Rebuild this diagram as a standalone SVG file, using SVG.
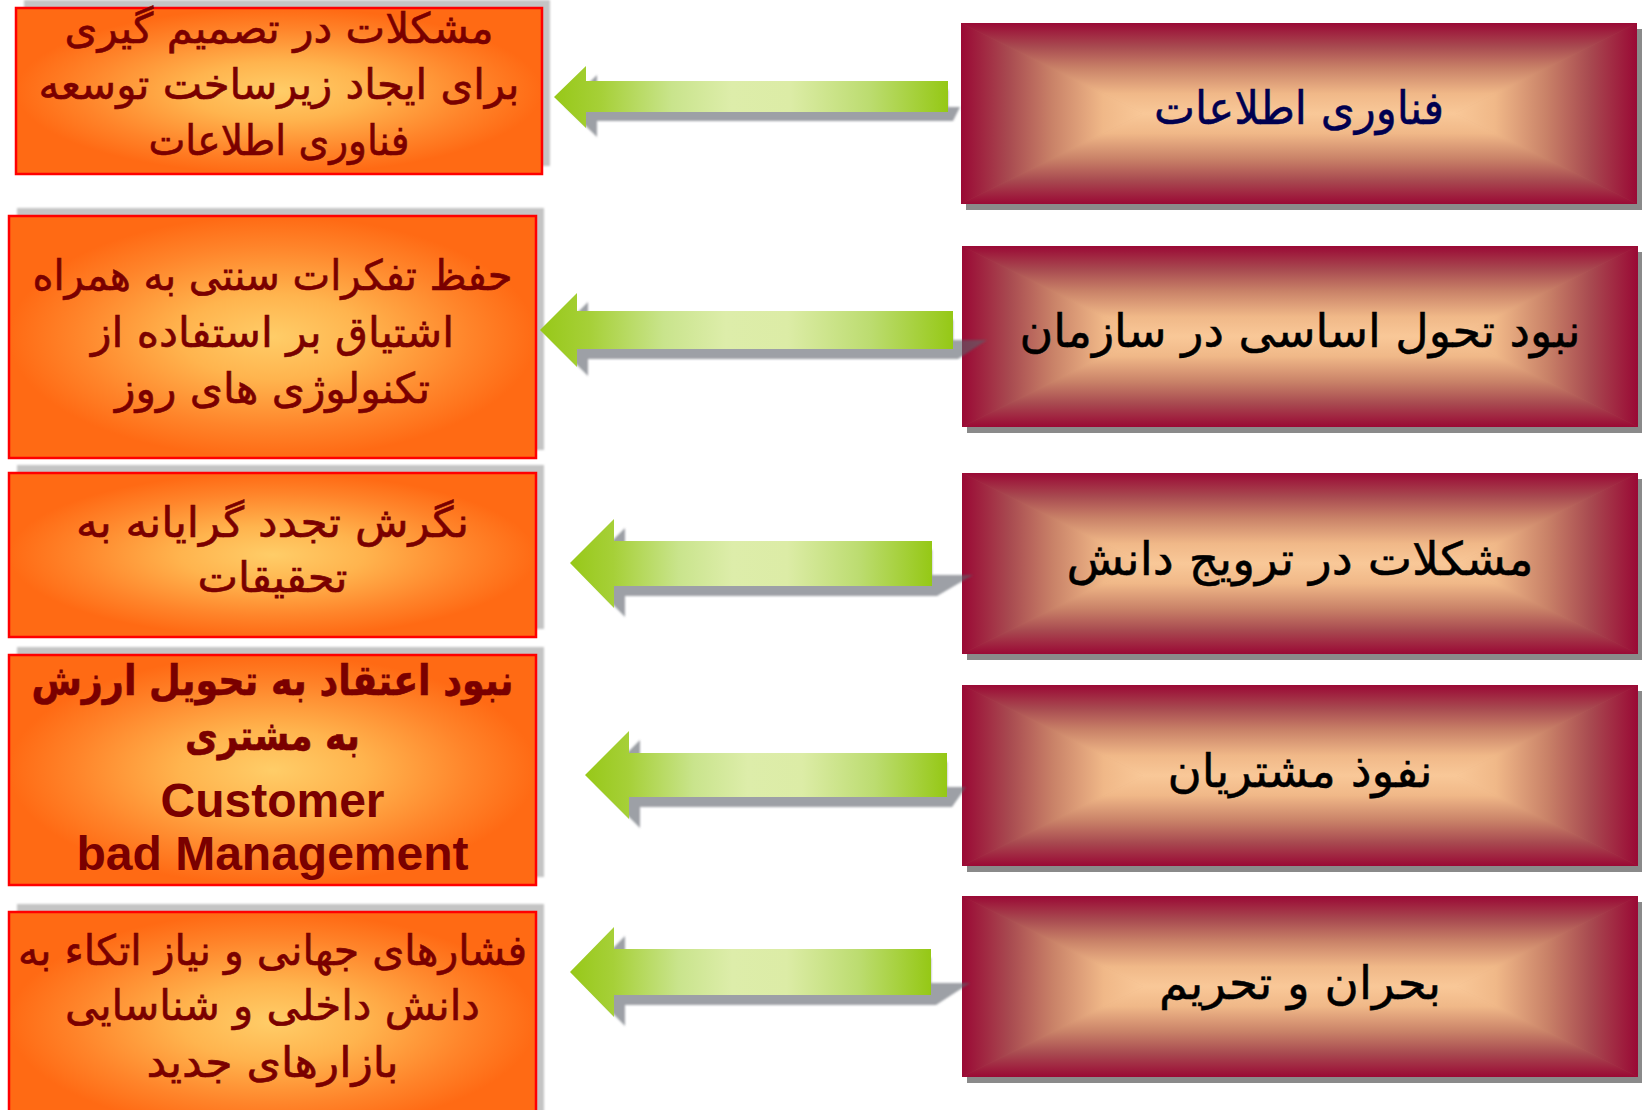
<svg xmlns="http://www.w3.org/2000/svg" xmlns:xlink="http://www.w3.org/1999/xlink" width="1642" height="1110" viewBox="0 0 1642 1110">
<style>
.fa{font-family:"DejaVu Sans","Noto Sans",sans-serif;text-anchor:middle;direction:rtl}
.lt{fill:#7a0000;stroke:#7a0000;stroke-width:0.6;font-size:42px}
.rt{fill:#000;stroke:#000;stroke-width:0.5;font-size:46px}
.en{font-family:"Liberation Sans",Arial,sans-serif;font-weight:bold;font-size:48px;fill:#7a0000;text-anchor:middle}
.obox{fill:url(#gOr);stroke:#ff0000;stroke-width:2.5}
.oshd{fill:#c4c4c4;filter:url(#blur1)}
.rshd{fill:#8a8a8a}
.ashd{fill:rgb(90,95,105);fill-opacity:0.6;filter:url(#blur1)}
.arr{fill:url(#gAr)}
</style>
<defs>
<filter id="blur1" x="-5%" y="-20%" width="110%" height="140%"><feGaussianBlur stdDeviation="1.2"/></filter>
<radialGradient id="gOr" cx="0.5" cy="0.5" r="0.5">
<stop offset="0" stop-color="#ffcd68"/>
<stop offset="0.35" stop-color="#ffb44e"/>
<stop offset="0.75" stop-color="#ff842a"/>
<stop offset="1" stop-color="#ff6a14"/>
</radialGradient>
<linearGradient id="gAr" x1="0" y1="0" x2="1" y2="0">
<stop offset="0" stop-color="#97c818"/>
<stop offset="0.12" stop-color="#a6d038"/>
<stop offset="0.3" stop-color="#c9e48c"/>
<stop offset="0.45" stop-color="#ddedaa"/>
<stop offset="0.6" stop-color="#dceca6"/>
<stop offset="0.8" stop-color="#bcdc70"/>
<stop offset="1" stop-color="#95c815"/>
</linearGradient>
<linearGradient id="gT" x1="0" y1="0" x2="0" y2="1">
<stop offset="0" stop-color="#9a0935"/>
<stop offset="0.26" stop-color="#a84a50"/>
<stop offset="0.5" stop-color="#c98268"/>
<stop offset="0.78" stop-color="#f0b888"/>
<stop offset="1" stop-color="#f9c898"/>
</linearGradient>
<linearGradient id="gB" xlink:href="#gT" x1="0" y1="1" x2="0" y2="0"/>
<linearGradient id="gL" xlink:href="#gT" x1="0" y1="0" x2="1" y2="0"/>
<linearGradient id="gR" xlink:href="#gT" x1="1" y1="0" x2="0" y2="0"/>
<symbol id="redFill" viewBox="0 0 676 181" preserveAspectRatio="none">
<rect width="676" height="181" fill="#c98268"/>
<polygon points="0,0 0,181 182,90.5" fill="url(#gL)" stroke="url(#gL)" stroke-width="0.8"/>
<polygon points="676,0 676,181 494,90.5" fill="url(#gR)" stroke="url(#gR)" stroke-width="0.8"/>
<polygon points="0,0 676,0 494,90.5 182,90.5" fill="url(#gT)" stroke="url(#gT)" stroke-width="0.8"/>
<polygon points="0,181 676,181 494,90.5 182,90.5" fill="url(#gB)" stroke="url(#gB)" stroke-width="0.8"/>
</symbol>
</defs>
<rect width="1642" height="1110" fill="#ffffff"/>

<g id="left1">
<rect class="oshd" x="24" y="0" width="526" height="166"/>
<rect class="obox" x="16" y="8" width="526" height="166"/>
<text class="fa lt" x="279" y="43" textLength="429" lengthAdjust="spacingAndGlyphs">مشکلات در تصمیم گیری</text>
<text class="fa lt" x="279" y="99" textLength="481" lengthAdjust="spacingAndGlyphs">برای ایجاد زیرساخت توسعه</text>
<text class="fa lt" x="279" y="155" textLength="261" lengthAdjust="spacingAndGlyphs">فناوری اطلاعات</text>
</g>
<g id="left2">
<rect class="oshd" x="17" y="208" width="527" height="242"/>
<rect class="obox" x="9" y="216" width="527" height="242"/>
<text class="fa lt" x="272.5" y="290" textLength="480" lengthAdjust="spacingAndGlyphs">حفظ تفکرات سنتی به همراه</text>
<text class="fa lt" x="272.5" y="347" textLength="363" lengthAdjust="spacingAndGlyphs">اشتیاق بر استفاده از</text>
<text class="fa lt" x="272.5" y="403" textLength="315" lengthAdjust="spacingAndGlyphs">تکنولوژی های روز</text>
</g>
<g id="left3">
<rect class="oshd" x="17" y="465" width="527" height="164"/>
<rect class="obox" x="9" y="473" width="527" height="164"/>
<text class="fa lt" x="272.5" y="537" textLength="393" lengthAdjust="spacingAndGlyphs">نگرش تجدد گرایانه به</text>
<text class="fa lt" x="272.5" y="592" textLength="150" lengthAdjust="spacingAndGlyphs">تحقیقات</text>
</g>
<g id="left4">
<rect class="oshd" x="17" y="647" width="527" height="230"/>
<rect class="obox" x="9" y="655" width="527" height="230"/>
<text class="fa lt" x="272.5" y="695" font-weight="bold" textLength="482" lengthAdjust="spacingAndGlyphs">نبود اعتقاد به تحویل ارزش</text>
<text class="fa lt" x="272.5" y="750" font-weight="bold" textLength="175" lengthAdjust="spacingAndGlyphs">به مشتری</text>
<text class="en" x="272.5" y="817">Customer</text>
<text class="en" x="272.5" y="870">bad Management</text>
</g>
<g id="left5">
<rect class="oshd" x="17" y="904" width="527" height="220"/>
<rect class="obox" x="9" y="912" width="527" height="220"/>
<text class="fa lt" x="272.5" y="965" textLength="509" lengthAdjust="spacingAndGlyphs">فشارهای جهانی و نیاز اتکاء به</text>
<text class="fa lt" x="272.5" y="1020" textLength="415" lengthAdjust="spacingAndGlyphs">دانش داخلی و شناسایی</text>
<text class="fa lt" x="272.5" y="1077" textLength="252" lengthAdjust="spacingAndGlyphs">بازارهای جدید</text>
</g>

<g id="right1">
<rect class="rshd" x="966" y="29" width="676" height="181"/>
<use xlink:href="#redFill" x="961" y="23" width="676" height="181"/>
<text class="fa rt" x="1299" y="124" style="fill:#000050;stroke:#000050" textLength="290" lengthAdjust="spacingAndGlyphs">فناوری اطلاعات</text>
</g>
<g id="right2">
<rect class="rshd" x="967" y="252" width="676" height="181"/>
<use xlink:href="#redFill" x="962" y="246" width="676" height="181"/>
<text class="fa rt" x="1300" y="347" textLength="561" lengthAdjust="spacingAndGlyphs">نبود تحول اساسی در سازمان</text>
</g>
<g id="right3">
<rect class="rshd" x="967" y="479" width="676" height="181"/>
<use xlink:href="#redFill" x="962" y="473" width="676" height="181"/>
<text class="fa rt" x="1300" y="575" textLength="467" lengthAdjust="spacingAndGlyphs">مشکلات در ترویج دانش</text>
</g>
<g id="right4">
<rect class="rshd" x="967" y="691" width="676" height="181"/>
<use xlink:href="#redFill" x="962" y="685" width="676" height="181"/>
<text class="fa rt" x="1300" y="787" textLength="265" lengthAdjust="spacingAndGlyphs">نفوذ مشتریان</text>
</g>
<g id="right5">
<rect class="rshd" x="967" y="902" width="676" height="181"/>
<use xlink:href="#redFill" x="962" y="896" width="676" height="181"/>
<text class="fa rt" x="1300" y="999" textLength="282" lengthAdjust="spacingAndGlyphs">بحران و تحریم</text>
</g>

<g id="connectors">
<path class="ashd" d="M565,106 L597,75 L597,90 L948,90 L948,107 L960,107 L953,121 L597,121 L597,137 Z"/>
<path class="arr" d="M554,97 L586,66 L586,81 L948,81 L948,112 L586,112 L586,128 Z"/>
<path class="ashd" d="M551,339 L588,302 L588,320 L953,320 L953,340 L987,340 L958,359 L588,359 L588,376 Z"/>
<path class="arr" d="M540,330 L577,293 L577,311 L953,311 L953,349 L577,349 L577,367 Z"/>
<path class="ashd" d="M581,572 L625,528 L625,550 L932,550 L932,575 L973,575 L937,596 L625,596 L625,617 Z"/>
<path class="arr" d="M570,563 L614,519 L614,541 L932,541 L932,586 L614,586 L614,608 Z"/>
<path class="ashd" d="M596,784 L640,740 L640,762 L947,762 L947,787 L966,787 L952,807 L640,807 L640,828 Z"/>
<path class="arr" d="M585,775 L629,731 L629,753 L947,753 L947,797 L629,797 L629,819 Z"/>
<path class="ashd" d="M581,981 L625,936 L625,958 L931,958 L931,983 L970,983 L936,1005 L625,1005 L625,1026 Z"/>
<path class="arr" d="M570,972 L614,927 L614,949 L931,949 L931,995 L614,995 L614,1017 Z"/>
</g>
</svg>
